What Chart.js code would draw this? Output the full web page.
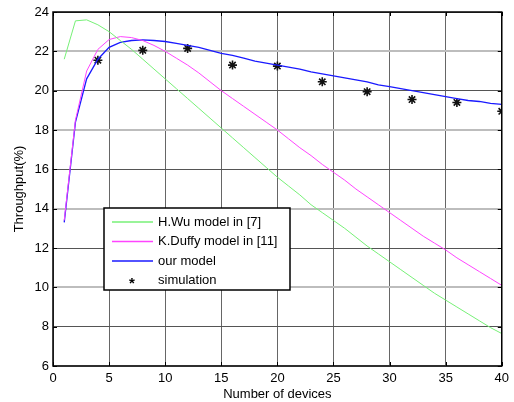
<!DOCTYPE html>
<html lang="en">
<head>
    <meta charset="UTF-8">
    <title>Throughput vs number of devices</title>
    <script src="https://cdn.jsdelivr.net/npm/chart.js"></script>
</head>
<body style="margin: 0; background-color: white">
    <canvas id="throughputChart" width="514" height="402"></canvas>

    <script>
        // Data
        const devices = [];
        for (let n = 1; n <= 40; n++) devices.push(n);

        const wuModel = [21.6, 23.55, 23.6, 23.35, 23.0, 22.55, 22.1, 21.6, 21.1, 20.6,
                         20.1, 19.6, 19.1, 18.6, 18.1, 17.6, 17.1, 16.6, 16.1, 15.6,
                         15.15, 14.7, 14.2, 13.8, 13.4, 13.0, 12.55, 12.1, 11.7, 11.3,
                         10.9, 10.5, 10.1, 9.7, 9.35, 9.0, 8.65, 8.3, 7.95, 7.65];
        const duffyModel = [13.4, 18.5, 21.0, 22.1, 22.6, 22.75, 22.7, 22.55, 22.3, 22.0,
                            21.65, 21.3, 20.9, 20.45, 20.0, 19.6, 19.2, 18.8, 18.4, 18.0,
                            17.55, 17.1, 16.7, 16.25, 15.85, 15.45, 15.0, 14.6, 14.2, 13.8,
                            13.4, 13.0, 12.6, 12.25, 11.9, 11.5, 11.15, 10.8, 10.45, 10.1];
        const ourModel = [13.3, 18.4, 20.6, 21.6, 22.2, 22.45, 22.55, 22.58, 22.55, 22.5,
                          22.4, 22.3, 22.2, 22.05, 21.9, 21.8, 21.65, 21.5, 21.4, 21.3,
                          21.2, 21.1, 20.95, 20.85, 20.75, 20.65, 20.55, 20.45, 20.3, 20.2,
                          20.1, 20.0, 19.9, 19.8, 19.7, 19.6, 19.5, 19.45, 19.35, 19.3];
        const simDevices = [4, 8, 12, 16, 20, 24, 28, 32, 36, 40];
        const simulation = [21.55, 22.05, 22.15, 21.3, 21.25, 20.45, 19.95, 19.55, 19.4, 18.95];

        const FONT = 'Liberation Sans, Arial, sans-serif';

        function toPoints(xs, ys) {
            return xs.map((x, i) => ({ x: x, y: ys[i] }));
        }

        // Box, inward tick marks and legend, MATLAB style
        const matlabFrame = {
            id: 'matlabFrame',
            afterDraw(chart) {
                const ctx = chart.ctx;
                const a = chart.chartArea;
                const xs = chart.scales.x, ys = chart.scales.y;
                ctx.save();
                ctx.strokeStyle = '#000';
                ctx.lineWidth = 1;
                ctx.beginPath();
                xs.ticks.forEach(t => {
                    const px = Math.round(xs.getPixelForValue(t.value)) + 0.5;
                    ctx.moveTo(px, a.bottom); ctx.lineTo(px, a.bottom - 4);
                    ctx.moveTo(px, a.top); ctx.lineTo(px, a.top + 4);
                });
                ys.ticks.forEach(t => {
                    const py = Math.round(ys.getPixelForValue(t.value)) + 0.5;
                    ctx.moveTo(a.left, py); ctx.lineTo(a.left + 4, py);
                    ctx.moveTo(a.right, py); ctx.lineTo(a.right - 4, py);
                });
                ctx.stroke();
                ctx.lineWidth = 1.5;
                ctx.strokeRect(a.left, a.top, a.right - a.left, a.bottom - a.top);

                // legend
                const bx = 104, by = 208, bw = 186, bh = 82;
                ctx.fillStyle = '#fff';
                ctx.fillRect(bx, by, bw, bh);
                ctx.lineWidth = 1.5;
                ctx.strokeRect(bx, by, bw, bh);
                ctx.font = '13px ' + FONT;
                ctx.textBaseline = 'middle';
                chart.data.datasets.forEach((ds, i) => {
                    const ry = by + 14 + i * 19.5;
                    if (ds.showLine === false) {
                        ctx.fillStyle = '#000';
                        ctx.font = 'bold 15px ' + FONT;
                        ctx.textAlign = 'center';
                        ctx.fillText('*', 132, ry + 3);
                        ctx.font = '13px ' + FONT;
                    } else {
                        ctx.strokeStyle = ds.borderColor;
                        ctx.lineWidth = 1.4;
                        ctx.beginPath();
                        ctx.moveTo(112, ry); ctx.lineTo(153, ry);
                        ctx.stroke();
                    }
                    ctx.fillStyle = '#000';
                    ctx.textAlign = 'left';
                    ctx.fillText(ds.label, 158, ry);
                });
                ctx.restore();
            }
        };

        const ctx = document.getElementById('throughputChart').getContext('2d');
        new Chart(ctx, {
            type: 'line',
            data: {
                datasets: [{
                    label: 'H.Wu model in [7]',
                    data: toPoints(devices, wuModel),
                    borderColor: '#77f077',
                    borderWidth: 1,
                    pointRadius: 0,
                    tension: 0
                }, {
                    label: 'K.Duffy model in [11]',
                    data: toPoints(devices, duffyModel),
                    borderColor: '#ff44ff',
                    borderWidth: 1,
                    pointRadius: 0,
                    tension: 0
                }, {
                    label: 'our model',
                    data: toPoints(devices, ourModel),
                    borderColor: '#1a1aff',
                    borderWidth: 1.3,
                    pointRadius: 0,
                    tension: 0
                }, {
                    label: 'simulation',
                    data: toPoints(simDevices, simulation),
                    showLine: false,
                    borderColor: '#111',
                    backgroundColor: '#111',
                    pointStyle: 'star',
                    pointRadius: 4.5,
                    pointBorderWidth: 1.6
                }]
            },
            options: {
                responsive: false,
                animation: false,
                layout: { padding: { left: 12, right: 10, top: 12, bottom: 0 } },
                plugins: {
                    legend: { display: false },
                    tooltip: { enabled: false }
                },
                scales: {
                    x: {
                        type: 'linear',
                        min: 0,
                        max: 40,
                        afterFit: s => { s.height = 36; },
                        ticks: {
                            stepSize: 5,
                            padding: 5,
                            color: '#000',
                            font: { family: FONT, size: 13 }
                        },
                        grid: {
                            color: '#666',
                            lineWidth: 1,
                            drawTicks: false
                        },
                        border: { display: false },
                        title: {
                            display: true,
                            text: 'Number of devices',
                            color: '#000',
                            font: { family: FONT, size: 13 },
                            padding: { top: 0, bottom: 0 }
                        }
                    },
                    y: {
                        min: 6,
                        max: 24,
                        afterFit: s => { s.width = 41; },
                        ticks: {
                            stepSize: 2,
                            padding: 4,
                            color: '#000',
                            font: { family: FONT, size: 13 }
                        },
                        grid: {
                            color: c => (c.tick && (c.tick.value / 2) % 2 === 1) ? '#bdbdbd' : '#555',
                            lineWidth: c => (c.tick && (c.tick.value / 2) % 2 === 1) ? 2 : 1,
                            drawTicks: false
                        },
                        border: { display: false },
                        title: {
                            display: true,
                            text: 'Throughput(%)',
                            color: '#000',
                            font: { family: FONT, size: 13 },
                            padding: { top: 0, bottom: 0 }
                        }
                    }
                }
            },
            plugins: [matlabFrame]
        });
    </script>
</body>
</html>
